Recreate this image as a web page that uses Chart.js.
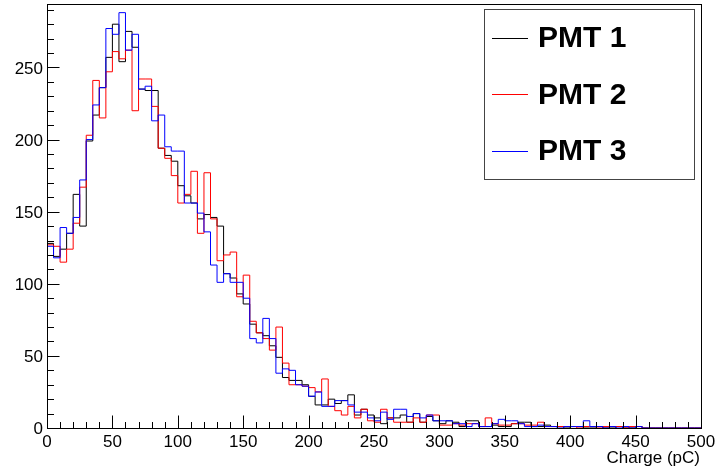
<!DOCTYPE html>
<html>
<head>
<meta charset="utf-8">
<script src="https://cdn.jsdelivr.net/npm/chart.js@4.4.1/dist/chart.umd.min.js"></script>
<style>
  html, body { margin: 0; padding: 0; background: #ffffff; }
  #wrap { width: 719px; height: 474px; position: relative; }
</style>
</head>
<body>
<div id="wrap"><canvas id="c" width="719" height="474"></canvas></div>
<script>
// Charge spectra of three photomultipliers, 5 pC bins from 0 to 500 pC
const BIN_WIDTH = 5;
const X_MIN = 0, X_MAX = 500;
const Y_MIN = 0, Y_MAX = 294;

const seriesNames = ['PMT 1', 'PMT 2', 'PMT 3'];
const seriesColors = ['#000000', '#ff0000', '#0000ff'];

const pmt1 = [
  128, 119, 124, 135, 162, 140, 199, 217, 236, 257,
  280, 254, 275, 264, 235, 234, 234, 194, 189, 185,
  168, 161, 156, 145, 148, 146, 140, 107, 104, 93,
  86, 72, 66, 64, 57, 49, 35, 33, 33, 30,
  22, 16, 16, 20, 17, 19, 23, 9, 13, 9,
  7, 3, 7, 7, 9, 4, 10, 4, 8, 5,
  3, 5, 4, 1, 5, 5, 1, 1, 2, 1,
  1, 3, 4, 4, 1, 1, 2, 1, 1, 0,
  1, 1, 0, 0, 1, 0, 0, 1, 0, 0,
  1, 0, 0, 0, 0, 0, 0, 0, 0, 0
];
const pmt2 = [
  127, 126, 115, 124, 142, 167, 203, 241, 215, 247,
  261, 256, 262, 220, 242, 242, 223, 194, 187, 175,
  156, 162, 178, 135, 177, 145, 116, 120, 122, 91,
  106, 74, 66, 62, 54, 70, 45, 30, 30, 29,
  28, 25, 34, 15, 12, 9, 15, 7, 13, 5,
  4, 13, 7, 4, 4, 4, 7, 4, 9, 9,
  2, 2, 3, 2, 3, 3, 1, 7, 3, 2,
  2, 3, 3, 2, 2, 4, 1, 1, 1, 1,
  1, 0, 1, 1, 0, 1, 1, 1, 0, 1,
  1, 0, 0, 0, 0, 0, 0, 0, 0, 0
];
const pmt3 = [
  126, 118, 139, 135, 146, 172, 200, 224, 236, 277,
  273, 288, 262, 273, 235, 237, 213, 217, 195, 192,
  192, 156, 156, 149, 136, 113, 101, 107, 101, 101,
  90, 62, 59, 76, 62, 38, 41, 40, 30, 29,
  22, 25, 15, 15, 19, 19, 16, 11, 11, 7,
  5, 11, 6, 13, 13, 8, 10, 7, 9, 5,
  5, 5, 3, 3, 1, 3, 1, 1, 3, 6,
  5, 5, 3, 1, 1, 2, 1, 1, 0, 1,
  1, 1, 5, 1, 1, 0, 1, 0, 1, 0,
  1, 0, 0, 0, 0, 0, 0, 0, 0, 0
];

const xMajorTicks = [0, 50, 100, 150, 200, 250, 300, 350, 400, 450, 500];
const yMajorTicks = [0, 50, 100, 150, 200, 250];
const MINOR_STEP_X = 10, MINOR_STEP_Y = 10;
const xTitle = 'Charge (pC)';

// one point per bin low edge plus the closing edge, drawn as steps
function histPoints(values) {
  const pts = values.map((v, i) => ({ x: X_MIN + i * BIN_WIDTH, y: v }));
  pts.push({ x: X_MIN + values.length * BIN_WIDTH, y: values[values.length - 1] });
  return pts;
}

const FONT = '"Liberation Sans", Arial, Helvetica, sans-serif';

// frame, inward ticks, labels and the boxed legend
const rootStyle = {
  id: 'rootStyle',
  afterDraw(chart) {
    const { ctx, chartArea: a, scales } = chart;
    const xs = scales.x, ys = scales.y;
    ctx.save();
    ctx.strokeStyle = '#000';
    ctx.lineWidth = 1;
    ctx.strokeRect(Math.round(a.left) + 0.5, Math.round(a.top) + 0.5,
      Math.round(a.right - a.left), Math.round(a.bottom - a.top));

    const by = Math.round(a.bottom) + 0.5;
    const lx = Math.round(a.left) + 0.5;
    ctx.beginPath();
    for (let v = X_MIN; v <= X_MAX; v += MINOR_STEP_X) {
      const px = Math.round(xs.getPixelForValue(v)) + 0.5;
      const len = xMajorTicks.includes(v) ? 13 : 6.5;
      ctx.moveTo(px, by); ctx.lineTo(px, by - len);
    }
    for (let v = Y_MIN; v <= Y_MAX; v += MINOR_STEP_Y) {
      const py = Math.round(ys.getPixelForValue(v)) + 0.5;
      const len = yMajorTicks.includes(v) ? 12 : 6.5;
      ctx.moveTo(lx, py); ctx.lineTo(lx + len, py);
    }
    ctx.stroke();

    ctx.fillStyle = '#000';
    ctx.font = '17px ' + FONT;
    ctx.textAlign = 'center';
    ctx.textBaseline = 'alphabetic';
    xMajorTicks.forEach(v => ctx.fillText(String(v), xs.getPixelForValue(v), 446.5));
    ctx.textAlign = 'right';
    yMajorTicks.forEach(v => ctx.fillText(String(v), a.left - 4, ys.getPixelForValue(v) + 6.3));
    ctx.fillText(xTitle, a.right - 1, 463);

    // legend box
    const L = { x: 484.5, y: 9.5, w: 210, h: 170 };
    ctx.fillStyle = '#fff';
    ctx.fillRect(L.x, L.y, L.w, L.h);
    ctx.strokeStyle = '#444';
    ctx.strokeRect(L.x, L.y, L.w, L.h);
    const rowY = [37.7, 94.3, 150.7];
    ctx.font = 'bold 30px ' + FONT;
    ctx.textAlign = 'left';
    ctx.textBaseline = 'middle';
    chart.data.datasets.forEach((ds, i) => {
      const y = Math.round(rowY[i]) + 0.5;
      ctx.strokeStyle = ds.borderColor;
      ctx.beginPath(); ctx.moveTo(492, y); ctx.lineTo(528, y); ctx.stroke();
      ctx.fillStyle = '#000';
      ctx.fillText(ds.label, 538, rowY[i] + 1.5);
    });
    ctx.restore();
  }
};

const seriesValues = [pmt1, pmt2, pmt3];
new Chart(document.getElementById('c'), {
  type: 'line',
  data: {
    datasets: seriesValues.map((vals, i) => ({
      label: seriesNames[i],
      data: histPoints(vals),
      borderColor: seriesColors[i],
      borderWidth: 1,
      pointRadius: 0,
      stepped: true,
      fill: false,
      order: 3 - i
    }))
  },
  options: {
    responsive: false,
    animation: false,
    events: [],
    layout: { padding: { left: 47, right: 18, top: 4, bottom: 46 } },
    plugins: { legend: { display: false }, title: { display: false }, tooltip: { enabled: false } },
    scales: {
      x: { type: 'linear', min: X_MIN, max: X_MAX, display: false },
      y: { type: 'linear', min: Y_MIN, max: Y_MAX, display: false }
    }
  },
  plugins: [rootStyle]
});
</script>
</body>
</html>
